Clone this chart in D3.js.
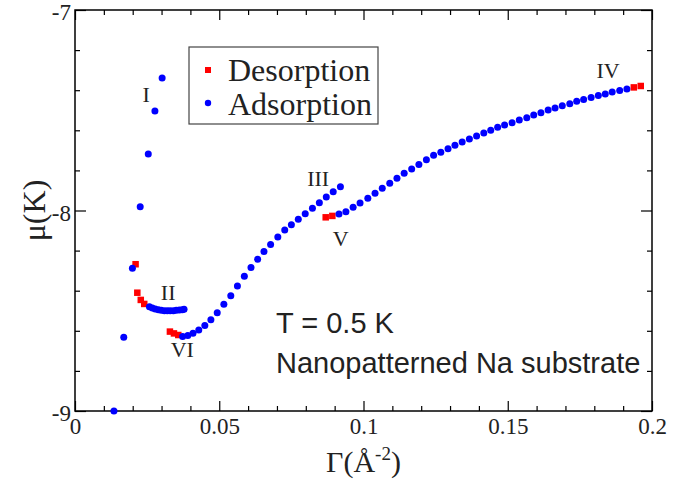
<!DOCTYPE html>
<html>
<head>
<meta charset="utf-8">
<script src="https://cdn.jsdelivr.net/npm/d3@7"></script>
<style>
  body { margin: 0; background: #fff; }
  svg { display: block; }
</style>
</head>
<body>
<div id="chart"></div>
<script>
// data: [Gamma (A^-2), mu (K)]
const desorption = [
  [0.0210, -8.268],
  [0.0216, -8.410], [0.0228, -8.446], [0.0240, -8.466],
  [0.0329, -8.604], [0.0343, -8.613], [0.0358, -8.621],
  [0.0869, -8.034], [0.0892, -8.027],
  [0.1937, -7.386], [0.1961, -7.379]
];

// branch I
const adsorptionI = [
  [0.0135, -9.000], [0.0169, -8.632], [0.0199, -8.288], [0.0226, -7.981],
  [0.0254, -7.718], [0.0277, -7.504], [0.0302, -7.339]
];

// branch II
const adsorptionII = [
  [0.0258, -8.480], [0.0268, -8.486], [0.0278, -8.491], [0.0289, -8.495],
  [0.0299, -8.498], [0.0310, -8.500], [0.0320, -8.500], [0.0330, -8.500],
  [0.0341, -8.500], [0.0351, -8.498], [0.0362, -8.496], [0.0372, -8.495],
  [0.0378, -8.493]
];

// branch VI -> III
const adsorptionIII = [
  [0.0373, -8.629], [0.0391, -8.624], [0.0409, -8.612], [0.0429, -8.596],
  [0.0450, -8.573], [0.0471, -8.545], [0.0493, -8.510], [0.0516, -8.468],
  [0.0540, -8.425], [0.0563, -8.377], [0.0587, -8.328], [0.0610, -8.284],
  [0.0633, -8.243], [0.0655, -8.205], [0.0678, -8.169], [0.0703, -8.132],
  [0.0727, -8.097], [0.0750, -8.071], [0.0774, -8.044], [0.0798, -8.016],
  [0.0823, -7.989], [0.0847, -7.961], [0.0871, -7.933], [0.0895, -7.906],
  [0.0920, -7.881]
];

// branch V -> IV
const adsorptionIV = [
  [0.0915, -8.017], [0.0939, -8.006], [0.0964, -7.984], [0.0988, -7.963],
  [0.1015, -7.939], [0.1040, -7.914], [0.1065, -7.889], [0.1091, -7.864],
  [0.1116, -7.839], [0.1141, -7.814], [0.1167, -7.793], [0.1192, -7.770],
  [0.1218, -7.747], [0.1243, -7.725], [0.1268, -7.710], [0.1293, -7.692],
  [0.1317, -7.675], [0.1342, -7.658], [0.1367, -7.643], [0.1392, -7.628],
  [0.1417, -7.613], [0.1441, -7.600], [0.1465, -7.585], [0.1489, -7.574],
  [0.1515, -7.562], [0.1540, -7.549], [0.1566, -7.537], [0.1590, -7.524],
  [0.1615, -7.512], [0.1640, -7.499], [0.1664, -7.489], [0.1689, -7.477],
  [0.1715, -7.467], [0.1739, -7.455], [0.1763, -7.447], [0.1789, -7.437],
  [0.1814, -7.427], [0.1838, -7.419], [0.1862, -7.409], [0.1888, -7.402],
  [0.1913, -7.394]
];

const xTicks = [0, 0.05, 0.1, 0.15, 0.2];
const yTicks = [-9, -8, -7];
const legendLabels = ["Desorption", "Adsorption"];

// roman numeral labels: [text, Gamma, mu]
const branchLabels = [
  ["I", 0.0247, -7.42],
  ["II", 0.0323, -8.41],
  ["III", 0.0843, -7.84],
  ["IV", 0.1848, -7.30],
  ["V", 0.0921, -8.14],
  ["VI", 0.0372, -8.69]
];

const width = 685, height = 485;
const margin = {top: 10, right: 33, bottom: 74, left: 75};
const innerW = width - margin.left - margin.right;
const innerH = height - margin.top - margin.bottom;

const svg = d3.select("#chart")
    .append("svg")
    .attr("width", width)
    .attr("height", height);

const g = svg.append("g")
    .attr("transform", `translate(${margin.left},${margin.top})`);

const x = d3.scaleLinear().domain([0, 0.2]).range([0, innerW]);
const y = d3.scaleLinear().domain([-9, -7]).range([innerH, 0]);

const serif = "'Liberation Serif', 'Times New Roman', serif";
const sans = "'Liberation Sans', Arial, sans-serif";

const minorX = d3.range(0, 0.2001, 0.01).filter(v => !xTicks.some(t => Math.abs(t - v) < 1e-6));
const minorY = d3.range(-9, -6.999, 0.2).filter(v => !yTicks.some(t => Math.abs(t - v) < 1e-6));

function styleAxis(sel) {
    sel.select(".domain").remove();
    sel.selectAll("line").attr("stroke", "#000").attr("stroke-width", 1.2);
    sel.selectAll("text").attr("font-family", serif).attr("font-size", 23).attr("fill", "#222");
}

// major + minor ticks, all pointing inward, on all four sides
g.append("g").attr("transform", `translate(0,${innerH})`)
    .call(d3.axisBottom(x).tickValues(xTicks).tickSize(-10).tickPadding(7).tickFormat(d => String(d)))
    .call(styleAxis);
g.append("g").attr("transform", `translate(0,${innerH})`)
    .call(d3.axisBottom(x).tickValues(minorX).tickSize(-5).tickFormat(""))
    .call(styleAxis);
g.append("g")
    .call(d3.axisTop(x).tickValues(xTicks).tickSize(-10).tickFormat(""))
    .call(styleAxis);
g.append("g")
    .call(d3.axisTop(x).tickValues(minorX).tickSize(-5).tickFormat(""))
    .call(styleAxis);

g.append("g")
    .call(d3.axisLeft(y).tickValues(yTicks).tickSize(-11).tickPadding(4).tickFormat(d => String(d)))
    .call(styleAxis)
    .call(a => a.selectAll("text").attr("dy", "0.42em"));
g.append("g")
    .call(d3.axisLeft(y).tickValues(minorY).tickSize(-5).tickFormat(""))
    .call(styleAxis);
g.append("g").attr("transform", `translate(${innerW},0)`)
    .call(d3.axisRight(y).tickValues(yTicks).tickSize(-11).tickFormat(""))
    .call(styleAxis);
g.append("g").attr("transform", `translate(${innerW},0)`)
    .call(d3.axisRight(y).tickValues(minorY).tickSize(-5).tickFormat(""))
    .call(styleAxis);

// frame
g.append("rect")
    .attr("width", innerW)
    .attr("height", innerH)
    .attr("fill", "none")
    .attr("stroke", "#000")
    .attr("stroke-width", 1.5);

// markers: red squares under, blue circles on top
const sq = 6.5;
g.selectAll("rect.des")
    .data(desorption)
    .join("rect")
    .attr("class", "des")
    .attr("x", d => x(d[0]) - sq / 2)
    .attr("y", d => y(d[1]) - sq / 2)
    .attr("width", sq)
    .attr("height", sq)
    .attr("fill", "#ff0000");

const adsorption = [].concat(adsorptionI, adsorptionII, adsorptionIII, adsorptionIV);
g.selectAll("circle.ads")
    .data(adsorption)
    .join("circle")
    .attr("class", "ads")
    .attr("cx", d => x(d[0]))
    .attr("cy", d => y(d[1]))
    .attr("r", 3.5)
    .attr("fill", "#0000ff");

// branch labels
g.selectAll("text.branch")
    .data(branchLabels)
    .join("text")
    .attr("class", "branch")
    .attr("x", d => x(d[1]))
    .attr("y", d => y(d[2]))
    .attr("text-anchor", "middle")
    .attr("dy", "0.35em")
    .attr("font-family", serif)
    .attr("font-size", 22)
    .attr("fill", "#222")
    .text(d => d[0]);

// legend
const legend = svg.append("g").attr("transform", "translate(189,47)");
legend.append("rect")
    .attr("width", 189)
    .attr("height", 77)
    .attr("fill", "#fff")
    .attr("stroke", "#444")
    .attr("stroke-width", 1.2);
legend.append("rect")
    .attr("x", 16).attr("y", 20)
    .attr("width", 6).attr("height", 6)
    .attr("fill", "#ff0000");
legend.append("circle")
    .attr("cx", 19).attr("cy", 56)
    .attr("r", 3.2)
    .attr("fill", "#0000ff");
legend.selectAll("text")
    .data(legendLabels)
    .join("text")
    .attr("x", 39)
    .attr("y", (d, i) => 34 + i * 34)
    .attr("font-family", serif)
    .attr("font-size", 32)
    .attr("fill", "#222")
    .text(d => d);

// annotation
svg.append("text")
    .attr("x", 276).attr("y", 333)
    .attr("font-family", sans)
    .attr("font-size", 29)
    .attr("fill", "#222")
    .text("T = 0.5 K");
svg.append("text")
    .attr("x", 276).attr("y", 373)
    .attr("font-family", sans)
    .attr("font-size", 29)
    .attr("fill", "#222")
    .text("Nanopatterned Na substrate");

// axis titles
const xt = svg.append("text")
    .attr("x", margin.left + innerW / 2)
    .attr("y", 472)
    .attr("text-anchor", "middle")
    .attr("font-family", serif)
    .attr("font-size", 30)
    .attr("fill", "#222");
xt.append("tspan").text("Γ(Å");
xt.append("tspan").attr("font-size", 19).attr("dy", -12).text("-2");
xt.append("tspan").attr("dy", 12).text(")");

svg.append("text")
    .attr("transform", `translate(45,${margin.top + innerH / 2}) rotate(-90)`)
    .attr("text-anchor", "middle")
    .attr("font-family", serif)
    .attr("font-size", 32)
    .attr("fill", "#222")
    .text("μ(K)");
</script>
</body>
</html>
